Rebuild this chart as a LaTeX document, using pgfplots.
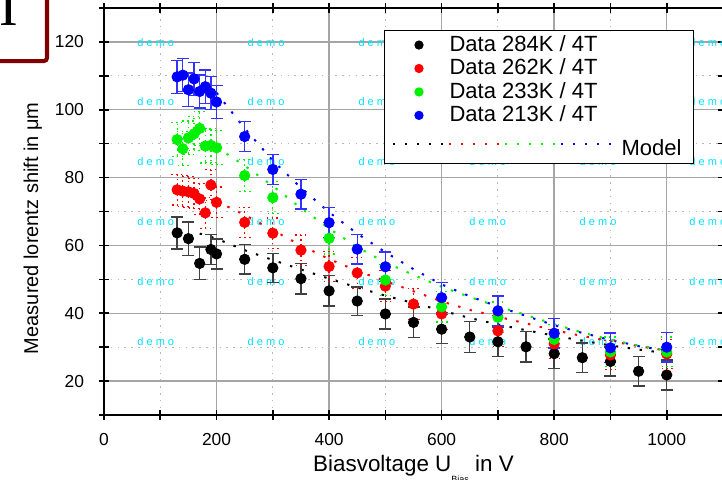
\documentclass[border=0pt]{standalone}
\usepackage{fontspec}
\setmainfont{Liberation Sans}
\usepackage{pgfplots}
\usepackage{pgfplotstable}
\pgfplotsset{compat=1.18}
\definecolor{gridgray}{RGB}{165,165,165}
\definecolor{logored}{RGB}{128,0,0}
\definecolor{democyan}{RGB}{0,225,255}
\definecolor{pgreen}{RGB}{0,240,0}

\pgfplotstableread{
x y e
130 63.7 4.7
150 62.0 4.9
170 54.7 4.8
190 58.8 4.5
200 57.5 4.4
250 55.9 4.3
300 53.4 4.3
350 50.2 4.5
400 46.6 4.5
450 43.6 4.2
500 39.8 4.4
550 37.3 4.5
600 35.3 4.3
650 33.0 4.5
700 31.6 4.3
750 30.1 4.5
800 28.1 4.3
850 26.9 4.3
900 25.8 4.3
950 22.9 4.3
1000 21.8 4.4
}\blackdata

\pgfplotstableread{
x y e
130 76.4 4.5
140 76.0 4.5
150 75.8 4.5
160 75.3 4.5
170 73.7 4.5
180 69.6 4.5
190 77.8 4.5
200 72.7 4.5
250 66.8 4.5
300 63.6 4.5
350 58.6 4.5
400 53.8 4.5
450 51.9 4.5
500 48.0 4.5
550 42.7 4.5
600 39.8 4.5
700 34.8 4.5
800 31.0 4.3
900 27.7 4.3
1000 28.0 4.3
}\reddata

\pgfplotstableread{
x y e
130 91.2 5.0
140 88.5 5.0
150 91.7 5.0
160 92.9 5.0
170 94.5 5.0
180 89.3 5.0
190 89.5 5.0
200 88.8 5.0
250 80.6 4.8
300 74.1 4.8
400 62.1 4.6
500 49.8 4.5
600 41.9 4.5
700 38.8 4.5
800 32.3 4.4
900 28.6 4.4
1000 28.6 4.4
}\greendata

\pgfplotstableread{
x y e
130 109.7 4.9
140 110.2 4.9
150 105.9 4.9
160 109.1 4.9
170 105.4 4.9
180 106.8 4.9
190 104.9 4.9
200 102.3 4.9
250 92.1 4.4
300 82.4 4.4
350 75.1 4.4
400 66.7 4.4
450 58.9 4.4
500 53.7 4.4
600 44.6 4.4
700 40.7 4.4
800 34.1 4.4
900 29.8 4.4
1000 30.0 4.4
}\bluedata

\pgfplotstableread{
x y
170 63.5
200 62.0
250 58.6
300 55.7
350 52.9
400 50.2
450 47.6
500 45.2
550 43.0
600 40.8
650 38.6
700 36.7
750 35.0
800 33.4
850 31.9
900 30.5
950 29.3
1000 28.2
}\blackmodel

\pgfplotstableread{
x y
200 73.0
250 69.0
300 64.5
350 60.0
400 56.0
450 52.5
500 49.5
550 46.5
600 43.5
650 41.0
700 39.0
750 37.0
800 35.0
850 33.3
900 31.8
950 30.3
1000 29.0
}\redmodel

\pgfplotstableread{
x y
200 89.0
250 83.5
300 77.5
350 71.0
400 65.0
450 59.5
500 55.0
550 51.3
600 47.8
650 44.8
700 42.0
750 39.5
800 36.8
850 34.3
900 32.2
950 30.5
1000 29.0
}\greenmodel

\pgfplotstableread{
x y
200 105.0
250 94.5
300 85.0
350 77.0
400 69.8
450 63.5
500 58.0
550 53.0
600 48.5
650 45.0
700 42.0
750 39.2
800 36.5
850 34.2
900 32.2
950 30.3
1000 29.0
}\bluemodel

\begin{document}
\begin{tikzpicture}
\begin{axis}[
  name=ax,
  scale only axis,
  width=309.5pt, height=203.5pt,
  xmin=0, xmax=1100, ymin=10, ymax=130,
  xtick={0,200,...,1000}, ytick={20,40,...,120},
  minor xtick={100,300,...,1100}, minor ytick={10,30,...,130},
  grid=both,
  major grid style={gridgray, line width=0.7pt},
  minor grid style={gridgray!80, line width=0.5pt, dash pattern=on 0.8pt off 2.6pt},
  axis line style={line width=1pt},
  tick style={black, line width=0.8pt},
  major tick length=5pt, minor tick length=5pt,
  tick align=center,
  /pgf/number format/assume math mode=true,
  /pgf/number format/1000 sep={},
  ticklabel style={font=\fontsize{8.7}{10}\selectfont},
  yticklabel style={xshift=-4pt},
  xticklabel style={yshift=-3pt},
  xlabel={Biasvoltage U\raisebox{-0.9ex}{\fontsize{4.5}{5}\selectfont Bias} in V},
  ylabel={Measured lorentz shift in μm},
  xlabel style={font=\fontsize{11.2}{13}\selectfont, at={(axis description cs:0.5,-0.140)}, anchor=base},
  ylabel style={font=\fontsize{10}{12}\selectfont, at={(axis description cs:-0.1066,0.459)}, anchor=base},
  legend style={at={(axis description cs:0.452,0.946)}, anchor=north west,
    draw=black, line width=0.6pt, fill=white,
    font=\fontsize{11}{13}\selectfont, inner xsep=4pt, inner ysep=0.5pt, row sep=-1.75pt},
  legend cell align=left,
]
% watermark text
\foreach \yy in {119.7,102.3,84.6,66.9,49.2,31.8}{
  \foreach \xx in {92,288,485,682,878,1073}{
    \edef\tmp{\noexpand\node[democyan, font=\noexpand\fontsize{5.5}{6}\noexpand\selectfont] at (axis cs:\xx,\yy) {d e m o};}
    \tmp
  }
}
% models
\addplot[forget plot, black, line width=1pt, dash pattern=on 1.2pt off 4.8pt] table[x=x,y=y] {\blackmodel};
\addplot[forget plot, red, line width=1pt, dash pattern=on 1.2pt off 4.8pt] table[x=x,y=y] {\redmodel};
\addplot[forget plot, pgreen, line width=1pt, dash pattern=on 1.2pt off 4.8pt] table[x=x,y=y] {\greenmodel};
\addplot[forget plot, blue, line width=1pt, dash pattern=on 1.2pt off 4.8pt] table[x=x,y=y] {\bluemodel};
% data
\addplot[forget plot, only marks, mark=*, mark size=2.6pt, black,
  error bars/.cd, y dir=both, y explicit,
  error bar style={line width=0.7pt, black!75},
  error mark options={rotate=90, mark size=3pt, line width=0.7pt, black!75}]
  table[x=x, y=y, y error=e] {\blackdata};
\addplot[forget plot, only marks, mark=*, mark size=2.6pt, red,
  error bars/.cd, y dir=both, y explicit,
  error bar style={line width=0.6pt, red, dash pattern=on 0.8pt off 1.6pt},
  error mark options={rotate=90, mark size=3pt, line width=0.6pt, red, dash pattern=on 0.8pt off 1.6pt}]
  table[x=x, y=y, y error=e] {\reddata};
\addplot[forget plot, only marks, mark=*, mark size=2.6pt, pgreen,
  error bars/.cd, y dir=both, y explicit,
  error bar style={line width=0.6pt, pgreen, dash pattern=on 0.8pt off 1.6pt},
  error mark options={rotate=90, mark size=3pt, line width=0.6pt, pgreen, dash pattern=on 0.8pt off 1.6pt}]
  table[x=x, y=y, y error=e] {\greendata};
\addplot[forget plot, only marks, mark=*, mark size=2.6pt, blue,
  error bars/.cd, y dir=both, y explicit,
  error bar style={line width=0.7pt, blue!80},
  error mark options={rotate=90, mark size=3pt, line width=0.7pt, blue!80}]
  table[x=x, y=y, y error=e] {\bluedata};
% legend
\pgfplotsset{dotimg/.style={only marks, mark=*, mark size=2pt,
  legend image code/.code={\draw[##1] plot coordinates {(13pt,0pt)}; \path (0pt,0pt) (26pt,0pt);}}}
\addlegendimage{dotimg, black}
\addlegendentry{Data 284K / 4T}
\addlegendimage{dotimg, red}
\addlegendentry{Data 262K / 4T}
\addlegendimage{dotimg, pgreen}
\addlegendentry{Data 233K / 4T}
\addlegendimage{dotimg, blue}
\addlegendentry{Data 213K / 4T}
\addlegendimage{legend image code/.code={
  \draw[overlay, black, line width=1pt, dash pattern=on 1.2pt off 4.8pt] (0pt,0pt) -- (28pt,0pt);
  \draw[overlay, red, line width=1pt, dash pattern=on 1.2pt off 4.8pt] (28pt,0pt) -- (56pt,0pt);
  \draw[overlay, pgreen, line width=1pt, dash pattern=on 1.2pt off 4.8pt] (56pt,0pt) -- (84pt,0pt);
  \draw[overlay, blue, line width=1pt, dash pattern=on 1.2pt off 4.8pt] (84pt,0pt) -- (112.5pt,0pt);
}}
\addlegendentry{\rule{0pt}{13pt}\hspace*{86pt}Model\rule[-3pt]{0pt}{0pt}}
\end{axis}
\begin{scope}[shift={(ax.south west)}]
  \draw[logored, line width=2pt, rounded corners=1.5pt] (-60pt,177pt) -- (-28.5pt,177pt) -- (-28.5pt,215pt);
  \node[anchor=base, inner sep=0pt, font=\fontspec{Liberation Serif}\fontsize{28}{28}\selectfont] at (-47.5pt,195pt) {I};
\end{scope}
\pgfresetboundingbox
\path[shift={(ax.south west)}] (-52pt,-32pt) rectangle (309pt,207.5pt);
\end{tikzpicture}
\end{document}
